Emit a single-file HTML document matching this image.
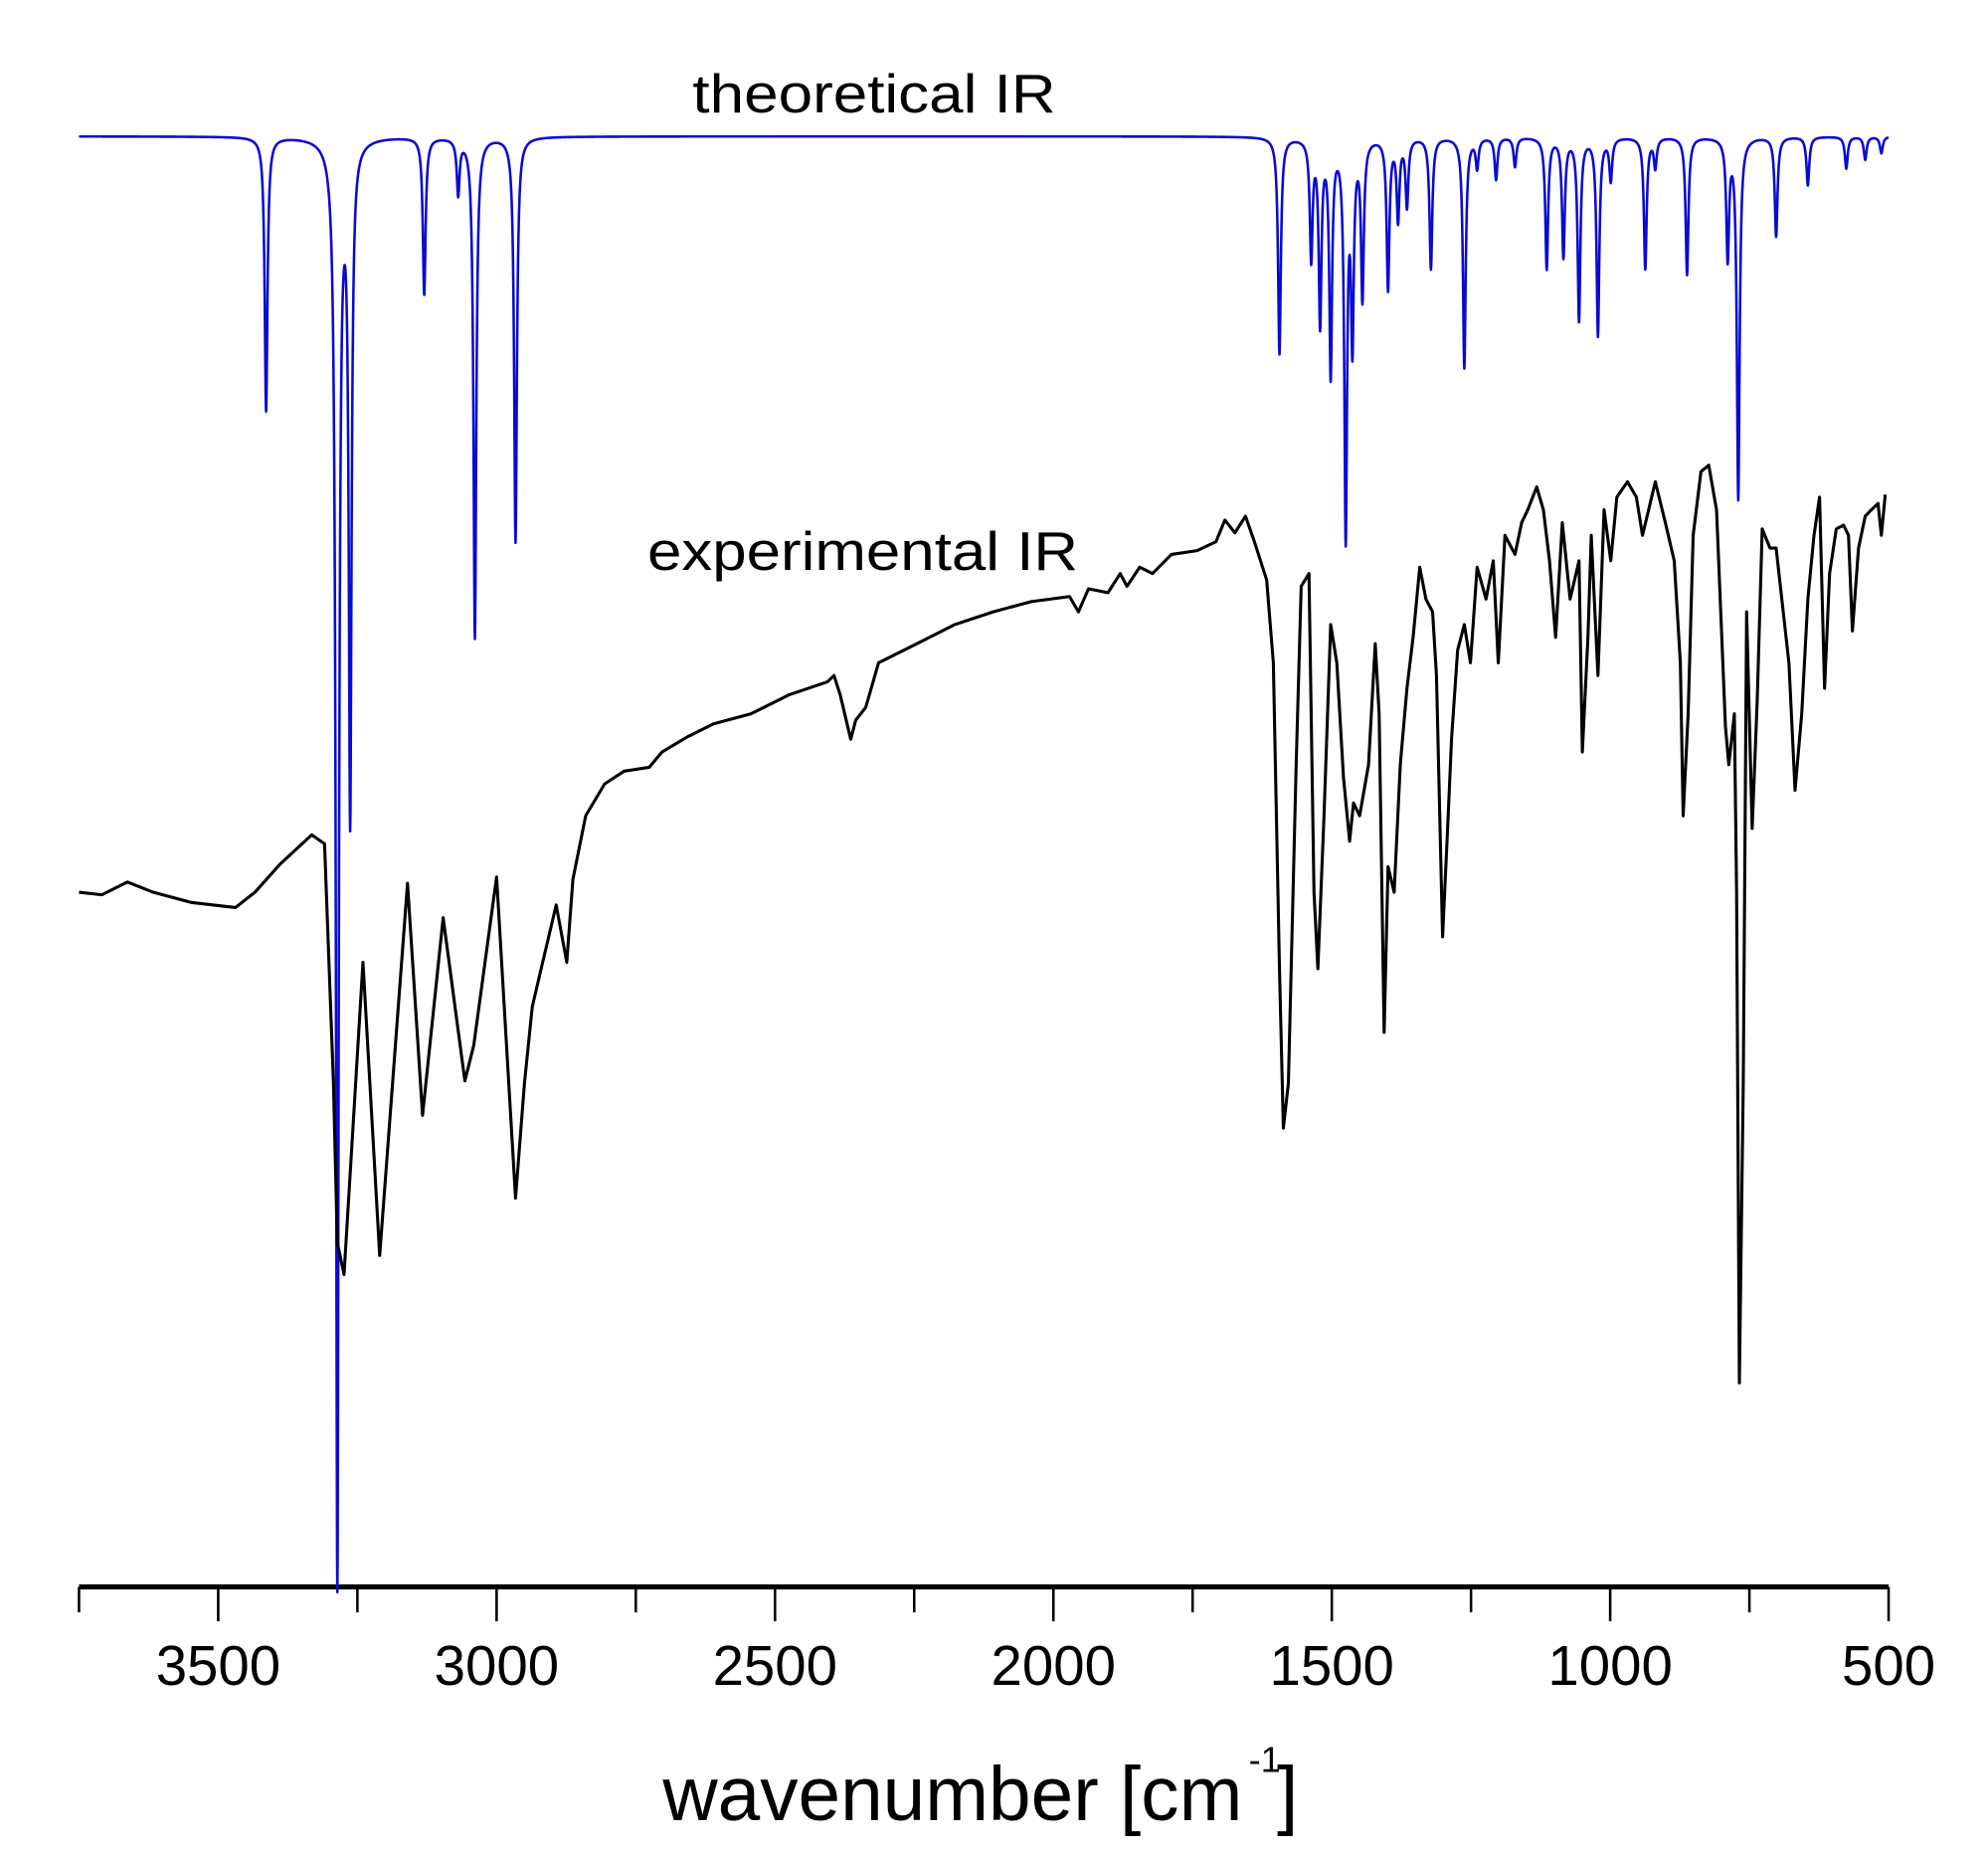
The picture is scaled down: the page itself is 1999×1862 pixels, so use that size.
<!DOCTYPE html>
<html><head><meta charset="utf-8">
<style>
html,body{margin:0;padding:0;background:#fff;}
svg{display:block;}
text{font-family:"Liberation Sans",Arial,sans-serif;fill:#000;}
</style></head>
<body>
<svg id="chart" width="1999" height="1862" viewBox="0 0 1560 1453" preserveAspectRatio="none" xmlns="http://www.w3.org/2000/svg">
<g id="axis"></g>
<path id="theo" fill="none" stroke="#0a0ad2" stroke-width="2" stroke-linejoin="round"/>
<path id="expt" fill="none" stroke="#000" stroke-width="2.4" stroke-linejoin="round"/>
<text x="686" y="88" font-size="43" text-anchor="middle" textLength="285" lengthAdjust="spacingAndGlyphs">theoretical IR</text>
<text x="677" y="447" font-size="43" text-anchor="middle" textLength="338" lengthAdjust="spacingAndGlyphs">experimental IR</text>
<text x="520" y="1428" font-size="60" textLength="455" lengthAdjust="spacingAndGlyphs">wavenumber [cm</text>
<text x="980" y="1390" font-size="28">-1</text>
<text x="1002" y="1428" font-size="60">]</text>
</svg>
<script>
// theoretical peaks: centers (cm-1) and depths (a.u.)
const theoCenters=[3414,3286,3263,3130,3069,3039,2966,1594,1537,1521,1502,1475,1463,1445,1399,1381,1365,1322,1262,1239,1205,1171,1114,1084,1056,1022,999,937,919,862,789,770,702,645,576,542,513];
const theoDepths=[215,1133,526,123,43,393,318,170,93,143,183,308,153,123,118,63,53,103,181,23,33,23,103,93,143,155,33,103,23,108,93,283,78,38,25,18,13];
const theoBaseline=1138;
// experimental spectrum: wavenumber and transmittance (a.u.)
const exptWn=[3750,3709,3663,3617,3549,3469,3434,3389,3332,3309,3293,3286,3274,3240,3210,3160,3133,3096,3057,3041,3000,2966,2950,2936,2920,2893,2874,2863,2840,2806,2771,2726,2703,2657,2611,2543,2474,2406,2394,2383,2364,2355,2337,2314,2245,2177,2108,2040,1971,1955,1937,1902,1880,1868,1845,1822,1788,1742,1708,1692,1674,1655,1639,1617,1605,1594,1587,1578,1564,1555,1541,1532,1525,1514,1502,1491,1479,1468,1461,1450,1434,1422,1415,1406,1399,1388,1377,1365,1354,1342,1331,1319,1312,1301,1292,1285,1274,1262,1251,1239,1223,1210,1201,1189,1171,1159,1148,1132,1120,1109,1098,1086,1072,1056,1050,1040,1034,1022,1011,999,988,969,953,942,931,919,901,885,874,869,860,851,837,823,809,793,787,777,773,768,761,755,745,736,727,713,702,679,668,656,645,634,624,615,606,594,581,572,565,554,542,531,519,513,506];
const exptT=[545,543,553,545,537,533,545,567,590,583,395,270,245,490,260,552,370,525,397,425,557,305,395,455,485,535,490,555,605,630,640,643,655,667,677,685,700,710,715,700,665,680,690,725,740,755,765,773,777,765,783,780,795,785,800,795,810,813,820,837,827,840,820,790,725,485,360,395,645,785,795,545,485,605,755,725,635,585,615,605,645,740,685,435,565,545,645,705,745,800,775,765,715,510,595,665,735,755,725,800,775,805,725,825,810,835,845,863,845,805,745,835,775,805,655,745,825,715,845,805,855,867,855,825,845,867,835,805,725,605,685,825,875,880,845,675,645,685,545,160,395,765,595,695,830,815,815,725,625,685,775,825,855,705,795,830,833,825,750,815,840,845,850,825,857];

const X0=62,X1=1482,W0=3750,W1=500,Y0=1245;
function xs(w){return X0+(W0-w)*(X1-X0)/(W0-W1);}
function ys(v){return Y0-v;}

const ax=document.getElementById('axis');
const NS='http://www.w3.org/2000/svg';
function mk(tag,attrs){const e=document.createElementNS(NS,tag);for(const k in attrs)e.setAttribute(k,attrs[k]);return e;}
const line=mk('line',{x1:X0,x2:X1,y1:Y0,y2:Y0,stroke:'#000','stroke-width':4});


ax.appendChild(line);
const majorTicks=[3500,3000,2500,2000,1500,1000,500];
const minorTicks=[3750,3250,2750,2250,1750,1250,750];
majorTicks.forEach(t=>{
  const tk=mk('line',{x1:xs(t),x2:xs(t),y1:Y0,y2:Y0+27,stroke:'#000','stroke-width':2});
  
  
  ax.appendChild(tk);
  const lb=mk('text',{x:xs(t),y:Y0+77,'font-size':44,'text-anchor':'middle'});
  lb.textContent=t;
  
  
  ax.appendChild(lb);
});
minorTicks.forEach(t=>{
  const tk=mk('line',{x1:xs(t),x2:xs(t),y1:Y0,y2:Y0+20,stroke:'#000','stroke-width':2});
  
  
  ax.appendChild(tk);
});

const gam=3;
let d='';
for(let w=W0;w>=W1;w-=0.5){
  let v=theoBaseline;
  for(let i=0;i<theoCenters.length;i++){const u=(w-theoCenters[i])/gam;v-=theoDepths[i]/(1+u*u);}
  d+=(d?'L':'M')+xs(w).toFixed(2)+' '+ys(v).toFixed(2);
}
document.getElementById('theo').setAttribute('d',d);

let d2='';
for(let i=0;i<exptWn.length;i++){d2+=(i?'L':'M')+xs(exptWn[i]).toFixed(2)+' '+ys(exptT[i]).toFixed(2);}
document.getElementById('expt').setAttribute('d',d2);
</script>
</body></html>
